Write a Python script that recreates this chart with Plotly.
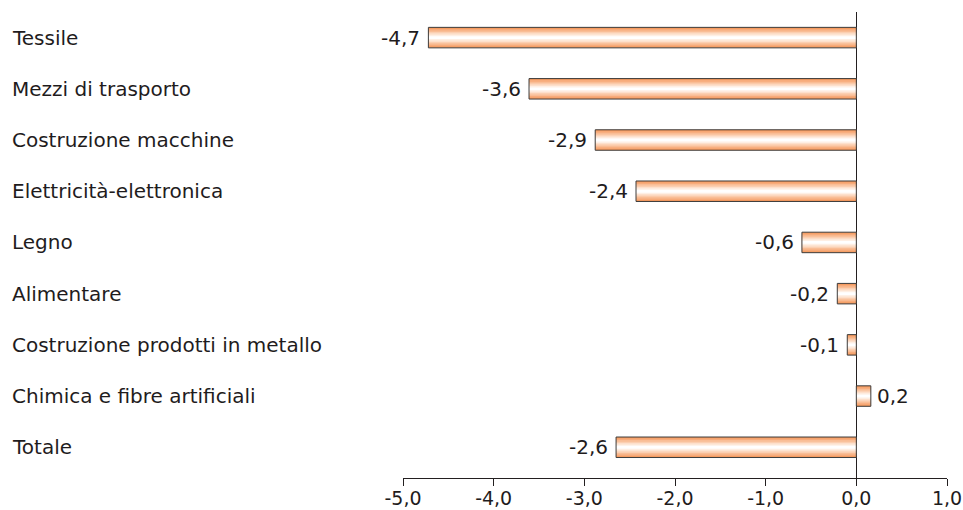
import plotly.graph_objects as go

categories = ["Tessile", "Mezzi di trasporto", "Costruzione macchine",
              "Elettricità-elettronica", "Legno", "Alimentare",
              "Costruzione prodotti in metallo", "Chimica e fibre artificiali", "Totale"]
values = [-4.72, -3.61, -2.88, -2.43, -0.6, -0.21, -0.1, 0.16, -2.65]
value_labels = ["-4,7", "-3,6", "-2,9", "-2,4", "-0,6", "-0,2", "-0,1", "0,2", "-2,6"]
tick_vals = [-5, -4, -3, -2, -1, 0, 1]
tick_text = ["-5,0", "-4,0", "-3,0", "-2,0", "-1,0", "0,0", "1,0"]

FONT = "DejaVu Sans"
TXT = "#1f1c1d"
BAR_W = 0.40

fig = go.Figure()

# simulated vertical gradient: wide orange base, lighter narrower layers on top
layers = [(1.0, "#f59b60"), (0.85, "#f7ab7a"), (0.7, "#f9bd95"), (0.55, "#fbcfb1"),
          (0.42, "#fde0cc"), (0.28, "#feefe4"), (0.14, "#ffffff")]
for frac, col in layers:
    fig.add_trace(go.Bar(
        x=values, y=categories, orientation="h", width=BAR_W * frac,
        marker=dict(color=col, line=dict(width=0)),
        hoverinfo="skip", showlegend=False))

# outline
fig.add_trace(go.Bar(
    x=values, y=categories, orientation="h", width=BAR_W,
    marker=dict(color="rgba(0,0,0,0)", line=dict(color="#3c3c3c", width=1)),
    showlegend=False))

annotations = []
for c, v, t in zip(categories, values, value_labels):
    annotations.append(dict(
        x=v, y=c, xref="x", yref="y", text=t, showarrow=False,
        xanchor="right" if v < 0 else "left", xshift=-6 if v < 0 else 4,
        font=dict(family=FONT, size=20, color=TXT)))
for c in categories:
    annotations.append(dict(
        x=(10 - 403) / 544, y=c, xref="paper", yref="y", text=c, showarrow=False,
        xanchor="left", font=dict(family=FONT, size=20, color=TXT)))

fig.update_layout(
    width=963, height=510,
    margin=dict(l=403, r=16, t=12, b=32, autoexpand=False),
    paper_bgcolor="white", plot_bgcolor="white",
    barmode="overlay",
    annotations=annotations,
    font=dict(family=FONT, size=20, color=TXT),
    xaxis=dict(range=[-5, 1], tickvals=tick_vals, ticktext=tick_text,
               automargin=False,
               showgrid=False, showline=True, linecolor="#231f20", linewidth=1,
               ticks="outside", ticklen=7, tickcolor="#231f20",
               ticklabelstandoff=-4,
               zeroline=True, zerolinecolor="#231f20", zerolinewidth=1,
               tickfont=dict(family=FONT, size=19, color=TXT)),
    yaxis=dict(type="category", categoryorder="array", categoryarray=categories,
               automargin=False,
               range=[8.6, -0.5], showticklabels=False, showgrid=False,
               showline=False, ticks=""),
)

fig.write_html("out.html")
